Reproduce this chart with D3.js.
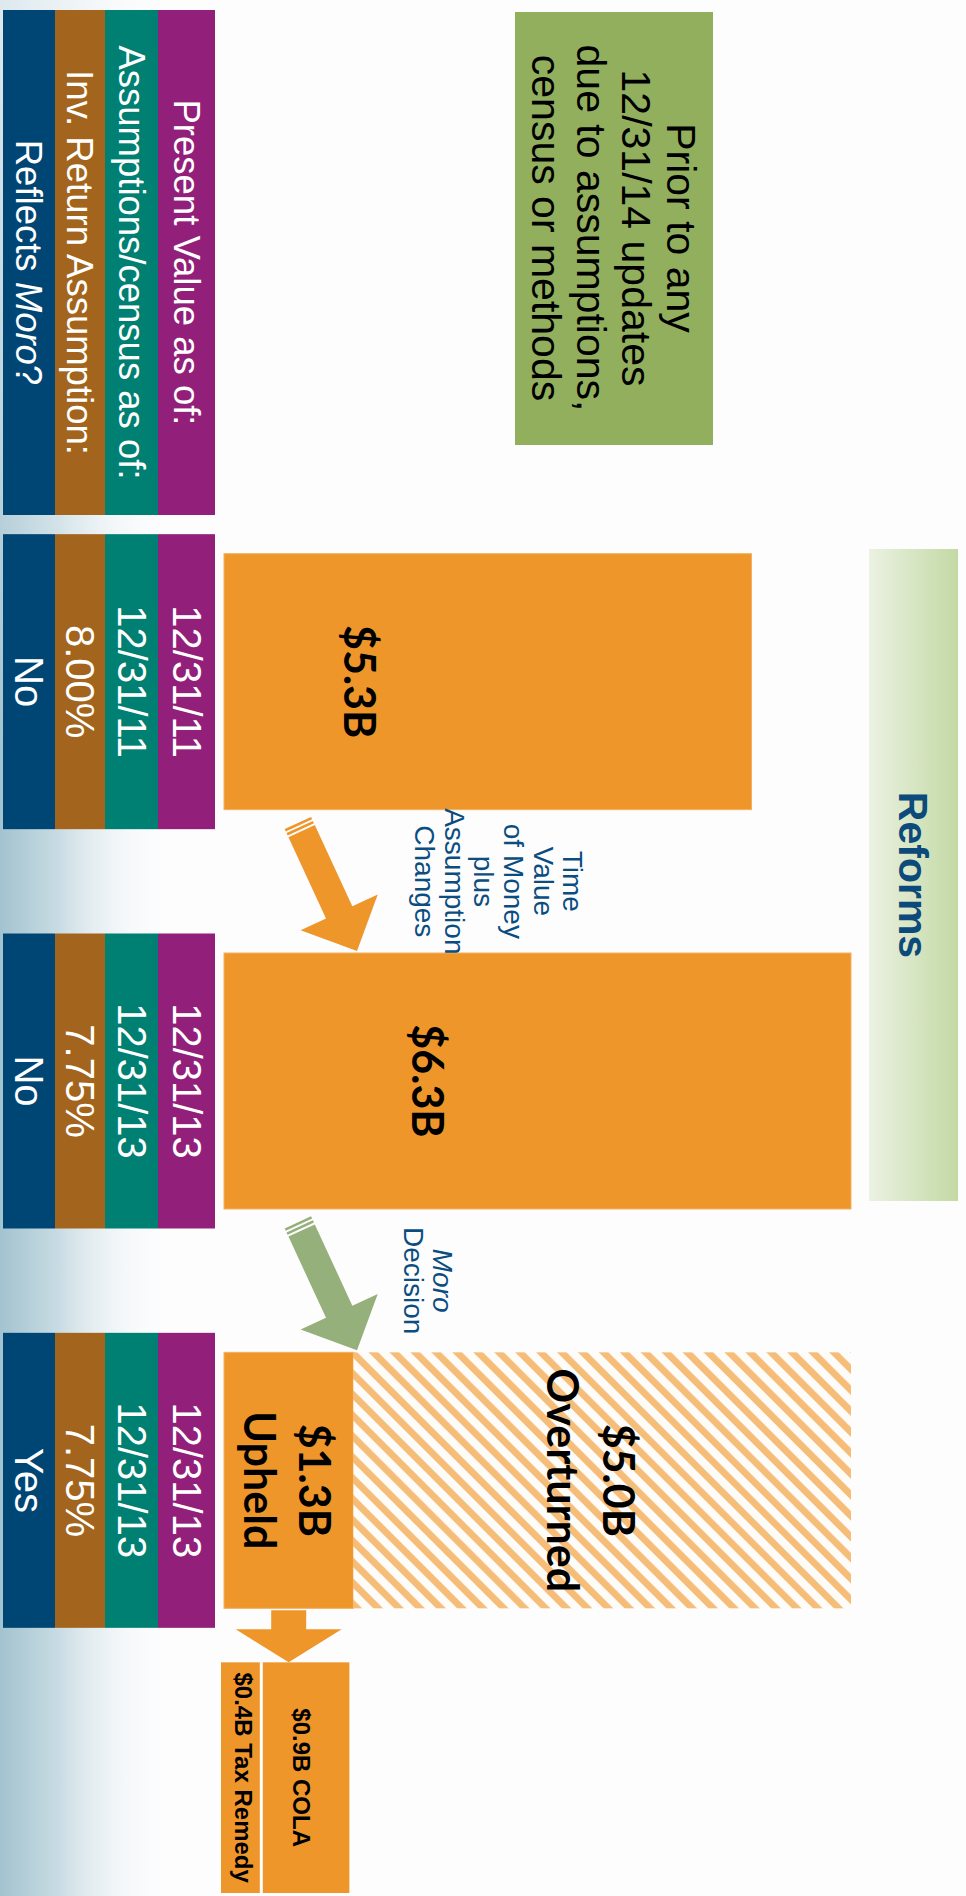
<!DOCTYPE html>
<html><head><meta charset="utf-8">
<script src="https://cdn.jsdelivr.net/npm/d3@7"></script>
<style>body{margin:0;background:#fdfdfe;} svg{display:block}</style>
</head><body>
<script>
// ---------- data ----------
const scenarios = ["12/31/11 valuation", "12/31/13 valuation", "12/31/13 with Moro"];
const headerLabels = ["Present Value as of:", "Assumptions/census as of:", "Inv. Return Assumption:", "Reflects Moro?"];
const presentValueDates = ["12/31/11", "12/31/13", "12/31/13"];
const censusDates = ["12/31/11", "12/31/13", "12/31/13"];
const returnAssumptions = ["8.00%", "7.75%", "7.75%"];
const reflectsMoro = ["No", "No", "Yes"];
const liabilityB = [5.3, 6.3, 1.3];
const overturnedB = [0, 0, 5.0];
const barLabels = [["$5.3B"], ["$6.3B"], ["$1.3B", "Upheld"]];
const overturnedLabel = ["$5.0B", "Overturned"];
const breakdownNames = ["$0.4B Tax Remedy", "$0.9B COLA"];
const breakdownB = [0.4, 0.9];
const transitionLabels = [["Time", "Value", "of Money", "plus", "Assumption", "Changes"], ["Moro", "Decision"]];
const noteLines = ["Prior to any", "12/31/14 updates", "due to assumptions,", "census or methods"];
const sectionTitle = "Reforms";

// ---------- layout ----------
const W = 966, H = 1896;
const ORANGE = "#EF962B", NAVY_TXT = "#0B4D80";
const colColors = ["#92207A", "#008072", "#A3651D", "#004675"];
const colEdges = [[158, 215], [105, 158], [55, 105], [3, 55]];
const rowValues = [presentValueDates, censusDates, returnAssumptions, reflectsMoro];

const svg = d3.select("body").append("svg").attr("width", W).attr("height", H);
const defs = svg.append("defs");

// background
svg.append("rect").attr("width", W).attr("height", H).attr("fill", "#fdfdfe");
const lg = defs.append("linearGradient").attr("id", "bgGrad").attr("x1", 0).attr("x2", 1).attr("y1", 0).attr("y2", 0);
lg.append("stop").attr("offset", "0%").attr("stop-color", "#A3C3D0");
lg.append("stop").attr("offset", "35%").attr("stop-color", "#C9DCE3");
lg.append("stop").attr("offset", "100%").attr("stop-color", "#fdfdfe").attr("stop-opacity", 0);
const mg = defs.append("linearGradient").attr("id", "maskGrad").attr("x1", 0).attr("x2", 0).attr("y1", 0).attr("y2", 1);
mg.append("stop").attr("offset", "0%").attr("stop-color", "#fff").attr("stop-opacity", 0.35);
mg.append("stop").attr("offset", "40%").attr("stop-color", "#fff").attr("stop-opacity", 1);
mg.append("stop").attr("offset", "100%").attr("stop-color", "#fff").attr("stop-opacity", 1);
defs.append("mask").attr("id", "bgMask").append("rect").attr("width", 170).attr("height", H).attr("fill", "url(#maskGrad)");
svg.append("rect").attr("width", 170).attr("height", H).attr("fill", "url(#bgGrad)").attr("mask", "url(#bgMask)");

// hatch pattern
const pat = defs.append("pattern").attr("id", "hatch").attr("patternUnits", "userSpaceOnUse")
  .attr("width", 14.8).attr("height", 14.8).attr("patternTransform", "rotate(-45)");
pat.append("rect").attr("width", 14.8).attr("height", 14.8).attr("fill", "#fefcf9");
pat.append("rect").attr("width", 6.8).attr("height", 14.8).attr("fill", "#F6BD78");

// reforms gradient
const rg = defs.append("linearGradient").attr("id", "refGrad").attr("x1", 0).attr("x2", 1).attr("y1", 0).attr("y2", 0);
rg.append("stop").attr("offset", "0%").attr("stop-color", "#EBF2E2");
rg.append("stop").attr("offset", "100%").attr("stop-color", "#C3D9A5");

// scales
const x = d3.scaleLinear().domain([0, 6.3]).range([224, 851]);
const y = d3.scaleBand().domain(scenarios).range([482, 1680]);
const cy = s => y(s) + y.bandwidth() / 2;
const BAR_H = 256, ROW_H = 295;

// rotated (multi-line) text helper
function vtext(g, cx, cyv, lines, opt) {
  const t = g.append("text").attr("transform", `translate(${cx},${cyv}) rotate(90)`)
    .attr("text-anchor", "middle")
    .attr("font-family", opt.family || "'Liberation Sans', Arial, sans-serif")
    .attr("font-size", opt.size).attr("font-weight", opt.weight || "normal")
    .attr("fill", opt.fill || "#000");
  const n = lines.length, lh = opt.lh || opt.size * 1.1;
  lines.forEach((ln, i) => {
    t.append("tspan").attr("x", 0).attr("y", (i - (n - 1) / 2) * lh).attr("dy", "0.35em")
      .attr("font-style", opt.italicFirst && i === 0 ? "italic" : null).text(ln);
  });
  return t;
}

// header block
const hdr = svg.append("g");
headerLabels.forEach((lab, i) => {
  const [a, b] = colEdges[i];
  hdr.append("rect").attr("x", a).attr("y", 10).attr("width", b - a).attr("height", 505).attr("fill", colColors[i]);
  const t = hdr.append("text").attr("transform", `translate(${(a + b) / 2},262.5) rotate(90)`)
    .attr("text-anchor", "middle").attr("dy", "0.35em")
    .attr("font-family", "'Liberation Sans', Arial, sans-serif").attr("font-size", 36.5).attr("fill", "#fff");
  if (lab.includes("Moro")) {
    const parts = lab.split("Moro");
    t.append("tspan").text(parts[0]);
    t.append("tspan").attr("font-style", "italic").text("Moro");
    t.append("tspan").text(parts[1]);
  } else t.text(lab);
});

// rows of attributes
const rows = svg.append("g");
scenarios.forEach((s, r) => {
  rowValues.forEach((vals, i) => {
    const [a, b] = colEdges[i];
    rows.append("rect").attr("x", a).attr("y", cy(s) - ROW_H / 2).attr("width", b - a).attr("height", ROW_H).attr("fill", colColors[i]);
    vtext(rows, (a + b) / 2, cy(s), [vals[r]], { size: 40, fill: "#fff" });
  });
});

// note box
svg.append("rect").attr("x", 515).attr("y", 12).attr("width", 198).attr("height", 433).attr("fill", "#92AF5E");
vtext(svg, 614, 228, noteLines, { size: 41, lh: 45, fill: "#000" });

// reforms box
svg.append("rect").attr("x", 869).attr("y", 549).attr("width", 89).attr("height", 652).attr("fill", "url(#refGrad)");
vtext(svg, 913, 875, [sectionTitle], { size: 41, weight: "bold", fill: "#0B4A7A" });

// bars
const bars = svg.append("g");
bars.selectAll("rect.main").data(scenarios).join("rect").attr("class", "main")
  .attr("x", x(0)).attr("y", s => cy(s) - BAR_H / 2)
  .attr("width", (s, i) => x(liabilityB[i]) - x(0)).attr("height", BAR_H)
  .attr("fill", ORANGE).attr("stroke", "#F4B062").attr("stroke-width", 1);
bars.selectAll("rect.over").data(scenarios.filter((s, i) => overturnedB[i] > 0)).join("rect").attr("class", "over")
  .attr("x", s => x(liabilityB[scenarios.indexOf(s)]))
  .attr("y", s => cy(s) - BAR_H / 2)
  .attr("width", s => { const i = scenarios.indexOf(s); return x(liabilityB[i] + overturnedB[i]) - x(liabilityB[i]); })
  .attr("height", BAR_H).attr("fill", "url(#hatch)");

const LATO = "Lato, 'Open Sans', sans-serif";
const labelOffsets = [135, 203, 62.5];
scenarios.forEach((s, i) => {
  vtext(svg, x(0) + labelOffsets[i], cy(s), barLabels[i], { size: 43, weight: "bold", family: LATO, lh: 55 });
});
const oi = scenarios.length - 1;
vtext(svg, x(liabilityB[oi]) + 237, cy(scenarios[oi]), overturnedLabel, { size: 43, weight: "bold", family: LATO, lh: 56 });

// transition arrows
function bigArrow(tipX, tipY, color) {
  const g = svg.append("g").attr("transform", `translate(${tipX},${tipY}) rotate(-24.8)`).attr("fill", color);
  g.append("path").attr("d", "M0,0 L-42.5,-42.5 L-14.5,-42.5 L-14.5,-132 L14.5,-132 L14.5,-42.5 L42.5,-42.5 Z");
  g.append("rect").attr("x", -14.5).attr("y", -141).attr("width", 29).attr("height", 2.6);
  g.append("rect").attr("x", -14.5).attr("y", -136.6).attr("width", 29).attr("height", 2.6);
}
bigArrow(357, cy(scenarios[1]) - BAR_H / 2 - 2, ORANGE);
bigArrow(357, cy(scenarios[2]) - BAR_H / 2 - 2, "#95B07A");

const gapMid = i => (cy(scenarios[i]) + BAR_H / 2 + cy(scenarios[i + 1]) - BAR_H / 2) / 2;
vtext(svg, 499, gapMid(0), transitionLabels[0], { size: 28, lh: 29.7, fill: NAVY_TXT });
vtext(svg, 428.5, gapMid(1), transitionLabels[1], { size: 28, lh: 29, fill: NAVY_TXT, italicFirst: true });

// small down arrow under upheld
const last = scenarios[oi];
const ax = (x(0) + x(liabilityB[oi])) / 2;
const aTop = cy(last) + BAR_H / 2 + 2;
svg.append("path").attr("fill", ORANGE)
  .attr("d", `M${ax - 17.5},${aTop} L${ax + 17.5},${aTop} L${ax + 17.5},${aTop + 19} L${ax + 53},${aTop + 19} L${ax},${aTop + 52} L${ax - 53},${aTop + 19} L${ax - 17.5},${aTop + 19} Z`);

// breakdown boxes
const bTop = aTop + 52, bBot = 1893;
let cum = 0;
const labOff = [3.5, -4.5];
breakdownB.forEach((v, i) => {
  const x0 = x(cum) - (i === 0 ? 3 : 1), x1 = x(cum + v) - 4;
  svg.append("rect").attr("x", x0).attr("y", bTop).attr("width", x1 - x0).attr("height", bBot - bTop).attr("fill", ORANGE);
  vtext(svg, (x0 + x1) / 2 + labOff[i], (bTop + bBot) / 2, [breakdownNames[i]], { size: 24, weight: "bold" });
  cum += v;
});
</script>
</body></html>
